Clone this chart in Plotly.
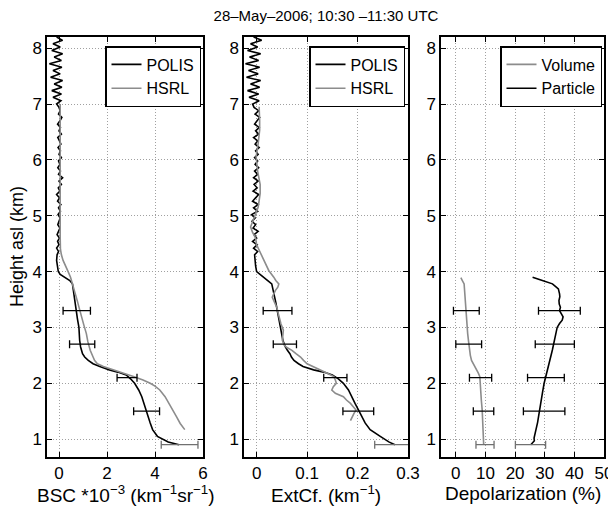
import plotly.graph_objects as go

# POLIS profile heights (km), shared by BSC and ExtCf
polis_h = [0.90, 0.95, 1.05, 1.17, 1.29, 1.40, 1.52, 1.64, 1.76, 1.88, 2.00, 2.08, 2.15, 2.20, 2.24,
           2.30, 2.35, 2.41, 2.47, 2.53, 2.59, 2.65, 2.77, 2.90, 3.00, 3.15, 3.30, 3.45, 3.60, 3.70,
           3.78, 3.84, 3.90, 3.95, 4.00, 4.10, 4.20,
           4.30, 4.36, 4.42, 4.48, 4.54, 4.60, 4.66, 4.72, 4.78, 4.84, 4.90,
           4.96, 5.02, 5.08, 5.14, 5.20, 5.26, 5.32, 5.38, 5.44, 5.50, 5.56, 5.62, 5.68, 5.74, 5.80,
           5.86, 5.92, 5.98,
           6.04, 6.10, 6.16, 6.22, 6.28, 6.34, 6.40, 6.46, 6.52, 6.58, 6.64, 6.70, 6.76, 6.82, 6.88, 6.94,
           7.00, 7.06, 7.12, 7.18, 7.24, 7.30, 7.36, 7.42, 7.48, 7.54, 7.60, 7.66, 7.72, 7.78, 7.84,
           7.90, 7.96, 8.02, 8.08, 8.14, 8.20]

polis_bsc = [5.0, 4.55, 4.1, 3.9, 3.8, 3.72, 3.65, 3.55, 3.45, 3.32, 3.15, 2.98, 2.8, 2.45, 2.1,
             1.7, 1.42, 1.22, 1.07, 0.98, 0.93, 0.9, 0.86, 0.85, 0.83, 0.77, 0.72, 0.66, 0.61, 0.58,
             0.56, 0.45, 0.22, 0.05, -0.03, -0.08, -0.1,
             -0.08, -0.02, -0.1, 0.0, -0.06, 0.02, -0.08, -0.03, 0.04, -0.05, 0.0,
             0.05, -0.04, 0.06, -0.02, 0.08, -0.06, 0.02, -0.1, 0.04, -0.03, 0.1, 0.0, 0.15, -0.02, 0.06,
             -0.05, 0.04, -0.02,
             0.1, 0.0, 0.06, -0.04, 0.08, 0.02, -0.05, 0.1, 0.0, 0.06, -0.06, 0.04, 0.12, -0.02, 0.05, 0.0,
             -0.1, 0.08, -0.25, 0.1, -0.3, 0.12, -0.2, 0.15, -0.35, 0.05, -0.25, 0.12, -0.4, 0.1, -0.2,
             0.15, -0.3, 0.05, -0.25, 0.15, -0.1]

polis_ext = [0.274, 0.262, 0.245, 0.225, 0.215, 0.208, 0.202, 0.195, 0.189, 0.182, 0.172, 0.162, 0.15,
             0.133, 0.113, 0.092, 0.083, 0.074, 0.069, 0.066, 0.061, 0.057, 0.052, 0.049, 0.047, 0.044,
             0.041, 0.038, 0.035, 0.033, 0.03, 0.022, 0.014, 0.006, 0.0, -0.002, -0.003,
             -0.004, 0.002, -0.006, 0.001, -0.008, 0.0, -0.005, 0.003, -0.007, -0.002, -0.009,
             -0.003, -0.01, 0.002, -0.006, 0.003, -0.008, -0.002, 0.004, -0.007, 0.001, -0.005, 0.003,
             -0.006, 0.002, -0.004, 0.004, -0.003, 0.002,
             -0.004, 0.003, -0.002, 0.005, -0.003, 0.002, -0.006, 0.004, -0.002, 0.005, -0.004, 0.002,
             0.006, -0.003, 0.004, -0.005,
             -0.008, 0.005, -0.015, 0.004, -0.018, 0.006, -0.012, 0.008, -0.02, 0.003, -0.016, 0.006,
             -0.022, 0.004, -0.014, 0.008, -0.018, 0.002, -0.012, 0.01, -0.006]

# HSRL backscatter
hsrl_bsc_h = [1.17, 1.28, 1.40, 1.52, 1.64, 1.76, 1.88, 1.95, 2.00, 2.06, 2.12, 2.18, 2.24, 2.30, 2.35,
              2.41, 2.47, 2.59, 2.75, 2.89, 3.05, 3.19, 3.35, 3.48, 3.63, 3.78, 3.90, 4.00, 4.10, 4.20,
              4.30, 4.40, 4.60, 5.00, 5.50, 6.00, 6.50, 7.00]
hsrl_bsc = [5.24, 5.05, 4.9, 4.75, 4.6, 4.42, 4.2, 4.0, 3.8, 3.5, 3.1, 2.65, 2.25, 1.85, 1.6,
            1.48, 1.42, 1.3, 1.2, 1.14, 1.03, 0.93, 0.84, 0.76, 0.67, 0.58, 0.48, 0.38, 0.27, 0.17,
            0.1, 0.06, 0.05, 0.06, 0.05, 0.05, 0.06, 0.05]

# HSRL extinction
hsrl_ext_h = [1.33, 1.40, 1.46, 1.52, 1.58, 1.64, 1.70, 1.76, 1.82, 1.88, 1.94, 2.00, 2.06, 2.12, 2.18,
              2.24, 2.30, 2.35, 2.41, 2.47, 2.53, 2.59, 2.64, 2.68, 2.77, 2.86, 2.95, 3.07, 3.19, 3.28,
              3.36, 3.45, 3.54, 3.60, 3.66, 3.72, 3.78, 3.84, 3.90, 4.02, 4.14, 4.26, 4.37, 4.48, 4.60,
              4.70, 4.80, 4.90, 5.03, 5.15, 5.27, 5.40, 5.56, 5.70, 5.80, 5.98, 6.05, 6.29, 6.53, 6.70,
              6.83, 6.95]
hsrl_ext = [0.186, 0.189, 0.193, 0.197, 0.192, 0.186, 0.178, 0.172, 0.156, 0.149, 0.152, 0.158, 0.156,
            0.153, 0.14, 0.126, 0.112, 0.1, 0.093, 0.087, 0.078, 0.07, 0.06, 0.055, 0.051, 0.052, 0.053,
            0.048, 0.044, 0.042, 0.04, 0.035, 0.031, 0.034, 0.037, 0.042, 0.044, 0.038, 0.034, 0.024,
            0.018, 0.011, 0.005, 0.0, -0.002, -0.008, -0.012, -0.008, -0.002, 0.003, 0.005, 0.007,
            0.007, 0.004, 0.002, 0.0, -0.001, 0.003, 0.006, 0.006, 0.006, 0.005]

# depolarization (%)
vol_h = [0.90, 1.05, 1.17, 1.35, 1.52, 1.70, 1.88, 2.00, 2.12, 2.18, 2.24, 2.32, 2.41, 2.50, 2.59,
         2.75, 2.89, 3.05, 3.19, 3.35, 3.48, 3.63, 3.70, 3.78, 3.84, 3.89]
vol_dep = [9.4, 9.3, 9.2, 9.0, 8.9, 8.6, 8.4, 8.3, 8.1, 7.6, 7.0, 6.0, 5.3, 4.9, 4.6,
           4.3, 4.0, 3.8, 3.7, 3.5, 3.4, 3.2, 3.0, 2.8, 2.2, 1.7]
par_h = [0.90, 0.94, 0.97, 1.02, 1.10, 1.17, 1.30, 1.40, 1.55, 1.70, 1.85, 2.00, 2.12, 2.24, 2.35,
         2.47, 2.60, 2.71, 2.80, 2.89, 2.95, 3.00, 3.07, 3.13, 3.19, 3.25, 3.30, 3.36, 3.42, 3.48,
         3.55, 3.60, 3.69, 3.74, 3.78, 3.84, 3.90]
par_dep = [25.3, 25.9, 26.5, 26.4, 26.8, 27.2, 27.6, 27.9, 28.3, 28.7, 29.3, 29.8, 30.3, 30.9, 31.4,
           32.0, 32.6, 33.1, 33.3, 33.7, 34.0, 34.2, 35.0, 35.9, 36.2, 35.5, 35.0, 35.3, 34.9, 34.8,
           35.1, 35.0, 34.6, 33.5, 32.6, 29.2, 25.9]

# error bars: heights and lower / upper bounds
err_h = [0.9, 1.5, 2.1, 2.7, 3.3]
bsc_lo = [4.26, 3.11, 2.42, 0.44, 0.17]
bsc_hi = [5.79, 4.19, 3.25, 1.49, 1.31]
ext_lo = [0.234, 0.171, 0.133, 0.033, 0.013]
ext_hi = [0.303, 0.232, 0.179, 0.079, 0.070]
vol_lo = [6.8, 5.9, 4.6, 0.0, -0.8]
vol_hi = [12.9, 12.8, 12.1, 8.7, 7.9]
par_lo = [20.1, 22.8, 24.2, 26.8, 27.9]
par_hi = [30.3, 36.8, 36.6, 40.0, 42.0]

BLACK = "black"
GREY = "#8c8c8c"
FONT = "Liberation Sans, Arial, sans-serif"

fig = go.Figure()


def line(x, y, color, name, ax, legend):
    fig.add_trace(go.Scatter(x=x, y=y, mode="lines", name=name, line=dict(color=color, width=1.6),
                             xaxis=ax[0], yaxis=ax[1], legend=legend))


def errbars(lo, hi, ax):
    mid = [(a + b) / 2 for a, b in zip(lo, hi)]
    for idx, col in ((slice(1, None), BLACK), (slice(0, 1), "#707070")):
        m = mid[idx]
        fig.add_trace(go.Scatter(
            x=m, y=err_h[idx], mode="markers", showlegend=False,
            marker=dict(size=1, color="rgba(0,0,0,0)"),
            error_x=dict(type="data", symmetric=False,
                         array=[b - c for b, c in zip(hi[idx], m)],
                         arrayminus=[c - a for a, c in zip(lo[idx], m)],
                         color=col, thickness=1.3, width=4),
            xaxis=ax[0], yaxis=ax[1]))


line(polis_bsc, polis_h, BLACK, "POLIS", ("x", "y"), "legend")
line(hsrl_bsc, hsrl_bsc_h, GREY, "HSRL", ("x", "y"), "legend")
errbars(bsc_lo, bsc_hi, ("x", "y"))

line(polis_ext, polis_h, BLACK, "POLIS", ("x2", "y2"), "legend2")
line(hsrl_ext, hsrl_ext_h, GREY, "HSRL", ("x2", "y2"), "legend2")
errbars(ext_lo, ext_hi, ("x2", "y2"))

line(vol_dep, vol_h, GREY, "Volume", ("x3", "y3"), "legend3")
line(par_dep, par_h, BLACK, "Particle", ("x3", "y3"), "legend3")
errbars(vol_lo, vol_hi, ("x3", "y3"))
errbars(par_lo, par_hi, ("x3", "y3"))

# the page body adds an 8px offset, so the figure is drawn 8px smaller
OFF = 8
W, H = 616 - OFF, 509 - OFF
L, R, T, B = 47 - OFF, 12, 37 - OFF, 52
pw, ph = W - L - R, H - T - B


def dom(a, b):
    return [(a - 47) / pw, (b - 47) / pw]


axis_common = dict(showline=True, linecolor="black", linewidth=1.5, mirror="ticks",
                   ticks="inside", ticklen=5, tickwidth=1, tickcolor="black",
                   showgrid=True, gridcolor="#a0a0a0", griddash="1px,2px", gridwidth=1,
                   zeroline=False, tickfont=dict(size=17, color="black"))

yticks = [1, 2, 3, 4, 5, 6, 7, 8]
fig.update_layout(
    xaxis=dict(domain=dom(47, 203), range=[-0.5, 6], tickvals=[0, 2, 4, 6], anchor="y", **axis_common),
    xaxis2=dict(domain=dom(244, 408), range=[-0.025, 0.3], tickvals=[0, 0.1, 0.2, 0.3],
                ticktext=["0", "0.1", "0.2", "0.3"], anchor="y2", **axis_common),
    xaxis3=dict(domain=dom(441, 604), range=[-5, 50], tickvals=[0, 10, 20, 30, 40, 50], anchor="y3",
                **axis_common),
    yaxis=dict(domain=[0, 1], range=[0.68, 8.2], tickvals=yticks, anchor="x", **axis_common),
    yaxis2=dict(domain=[0, 1], range=[0.68, 8.2], tickvals=yticks, anchor="x2", **axis_common),
    yaxis3=dict(domain=[0, 1], range=[0.68, 8.2], tickvals=yticks, anchor="x3", **axis_common),
)

leg = dict(xanchor="right", yanchor="top", bgcolor="white", bordercolor="black", borderwidth=1.5,
           font=dict(size=16, color="black"), tracegroupgap=0, itemwidth=30)
fig.update_layout(
    legend=dict(x=(201 - 47) / pw, y=(457 - 46) / ph, **leg),
    legend2=dict(x=(405 - 47) / pw, y=(457 - 46) / ph, **leg),
    legend3=dict(x=(602 - 47) / pw, y=(457 - 46) / ph, **leg),
)

ann = dict(showarrow=False, font=dict(size=19, color="black"), yref="paper", yanchor="middle")
fig.add_annotation(text="BSC *10<sup>−3</sup> (km<sup>−1</sup>sr<sup>−1</sup>)", xref="x domain",
                   x=0.5, y=(457 - 494) / ph, **ann)
fig.add_annotation(text="ExtCf. (km<sup>−1</sup>)", xref="x2 domain", x=0.5, y=(457 - 494) / ph, **ann)
fig.add_annotation(text="Depolarization (%)", xref="x3 domain", x=0.5, y=(457 - 494) / ph, **ann)
fig.add_annotation(text="Height asl (km)", xref="paper", x=(17 - 47) / pw, y=0.5, textangle=-90,
                   xanchor="center", **{**ann, "font": dict(size=18, color="black")})

fig.update_layout(
    title=dict(text="28–May–2006; 10:30 –11:30 UTC", x=(326 - OFF) / W, y=1 - (16 - OFF) / H,
               xanchor="center", yanchor="middle", font=dict(size=15, color="black")),
    width=W, height=H, margin=dict(l=L, r=R, t=T, b=B),
    paper_bgcolor="white", plot_bgcolor="white", template="none",
    font=dict(family=FONT, color="black"),
)

fig.write_html("out.html")
